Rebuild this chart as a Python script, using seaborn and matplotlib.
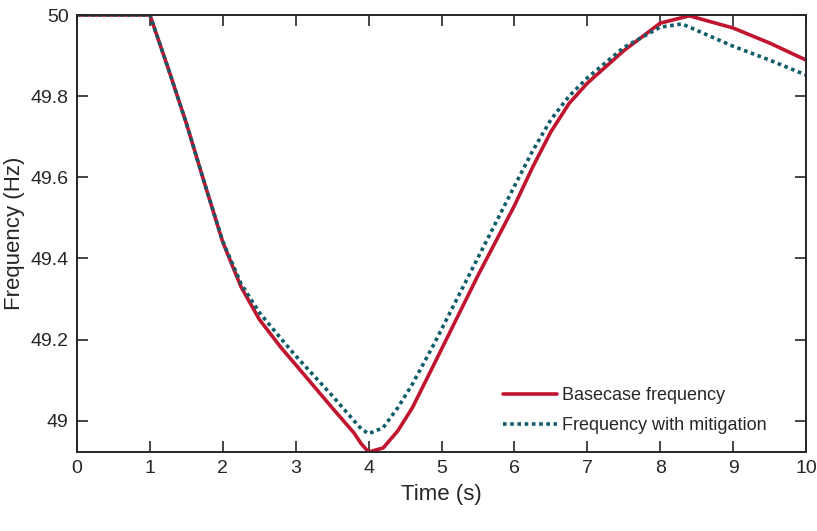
import matplotlib
matplotlib.use("Agg")
import matplotlib.pyplot as plt
import seaborn as sns
import pandas as pd

t_base = [0, 1, 1.25, 1.5, 1.75, 2, 2.25, 2.5, 2.8, 3, 3.5, 3.8, 3.9, 4.0, 4.2, 4.4, 4.6, 4.9, 5.5, 6, 6.25, 6.5, 6.75, 7, 7.5, 8, 8.4, 9, 9.5, 10]
f_base = [50, 50, 49.869, 49.733, 49.585, 49.44, 49.33, 49.25, 49.18, 49.138, 49.032, 48.97, 48.943, 48.923, 48.933, 48.975, 49.032, 49.14, 49.358, 49.53, 49.625, 49.712, 49.782, 49.832, 49.912, 49.98, 49.998, 49.968, 49.931, 49.889]
t_mit = [0, 1, 1.25, 1.5, 1.75, 2, 2.25, 2.5, 2.8, 3, 3.5, 3.8, 3.9, 4.0, 4.2, 4.4, 4.6, 4.9, 5.5, 6, 6.25, 6.5, 6.75, 7, 7.5, 8, 8.3, 9, 9.5, 10]
f_mit = [50, 50, 49.869, 49.733, 49.585, 49.442, 49.338, 49.267, 49.202, 49.16, 49.062, 49.0, 48.98, 48.968, 48.983, 49.032, 49.09, 49.19, 49.402, 49.578, 49.665, 49.742, 49.8, 49.845, 49.92, 49.97, 49.978, 49.923, 49.889, 49.852]
labels = ["Basecase frequency", "Frequency with mitigation"]

df = pd.concat([
    pd.DataFrame({"Time": t_base, "Freq": f_base, "Series": labels[0]}),
    pd.DataFrame({"Time": t_mit, "Freq": f_mit, "Series": labels[1]}),
])

sns.set_theme(style="ticks")
plt.rcParams['font.family'] = ['Liberation Sans', 'DejaVu Sans']

fig = plt.figure(figsize=(8.17, 5.31), dpi=100)
ax = fig.add_axes([77/817, 1 - 452/531, (806-77)/817, (452-15)/531])

sns.lineplot(data=df, x="Time", y="Freq", hue="Series", style="Series",
             palette={labels[0]: "#C0142F", labels[1]: "#0F5C6B"},
             dashes={labels[0]: "", labels[1]: (1, 1)}, ax=ax, sort=False)
for line in ax.get_lines():
    line.set_linewidth(2.6)

ax.set_xlim(0, 10)
ax.set_ylim(48.923, 50.0)
ax.set_xticks(range(0, 11))
ax.set_yticks([49, 49.2, 49.4, 49.6, 49.8, 50])
ax.set_yticklabels(["49", "49.2", "49.4", "49.6", "49.8", "50"])
ax.tick_params(direction="in", top=True, right=True, length=8, width=1.2,
               labelsize=14, colors="#262626", pad=6)
for s in ax.spines.values():
    s.set_visible(True)
    s.set_linewidth(1.4)
    s.set_color("#262626")
ax.set_xlabel("Time (s)", fontsize=16, color="#262626", labelpad=5)
ax.set_ylabel("Frequency (Hz)", fontsize=16, color="#262626")
ax.yaxis.set_label_coords(-0.071, 0.5)
leg = ax.legend(loc="upper left", bbox_to_anchor=(0.584, 0.149), frameon=False,
                fontsize=13, handlelength=3.0, labelspacing=0.73, handletextpad=0.28,
                borderpad=0, borderaxespad=0)
for h in leg.get_lines():
    h.set_linewidth(2.6)

fig.savefig("out.png", dpi=100)
